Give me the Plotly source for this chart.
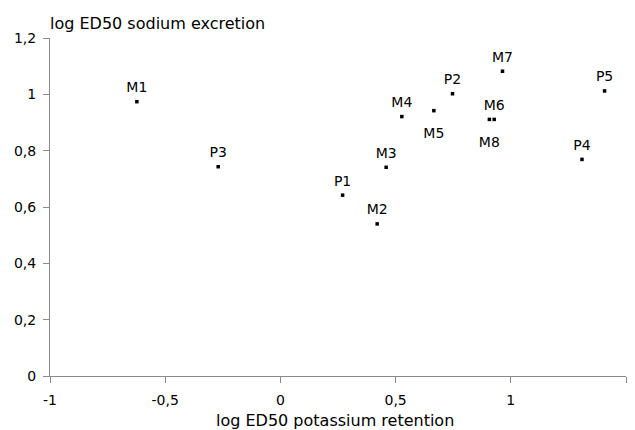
import plotly.graph_objects as go

labels = ["M1", "P3", "P1", "M2", "M3", "M4", "M5", "P2", "M7", "M6", "M8", "P4", "P5"]
x_vals = [-0.623, -0.270, 0.270, 0.420, 0.459, 0.527, 0.666, 0.747, 0.964, 0.928, 0.907, 1.309, 1.407]
y_vals = [0.974, 0.743, 0.642, 0.540, 0.741, 0.921, 0.942, 1.002, 1.082, 0.911, 0.911, 0.769, 1.012]
positions = ["top center", "top center", "top center", "top center", "top center", "top center",
             "bottom center", "top center", "top center", "top center", "bottom center",
             "top center", "top center"]

x_ticks = [-1, -0.5, 0, 0.5, 1, 1.5]
x_ticktext = ["-1", "-0,5", "0", "0,5", "1", "1,5"]
y_ticks = [0, 0.2, 0.4, 0.6, 0.8, 1.0, 1.2]
y_ticktext = ["0", "0,2", "0,4", "0,6", "0,8", "1", "1,2"]

FONT = "DejaVu Sans"
INK = "#000000"

# invisible marker sizes only control the label clearance from each point
clearance = [26 if p.startswith("bottom") else 8 for p in positions]

fig = go.Figure()
fig.add_trace(go.Scatter(
    x=x_vals, y=y_vals, mode="markers+text", text=labels,
    textposition=positions,
    textfont=dict(family=FONT, size=14, color=INK),
    marker=dict(symbol="square", size=clearance, color="rgba(0,0,0,0)"),
    cliponaxis=False, showlegend=False, hoverinfo="skip",
))
fig.add_trace(go.Scatter(
    x=x_vals, y=y_vals, mode="markers", text=labels,
    marker=dict(symbol="square", size=3.5, color=INK),
    cliponaxis=False, showlegend=False,
))

axis_common = dict(showgrid=False, zeroline=False, showline=True, linecolor="#8a8a8a",
                   linewidth=1, ticks="outside", ticklen=6, tickcolor="#8a8a8a",
                   automargin=False,
                   tickfont=dict(family=FONT, size=14, color=INK))

fig.update_xaxes(range=[-1, 1.5], tickvals=x_ticks, ticktext=x_ticktext,
                 ticklabelstandoff=5, **axis_common)
fig.update_yaxes(range=[0, 1.2], tickvals=y_ticks, ticktext=y_ticktext,
                 ticklabelstandoff=4, **axis_common)

fig.add_annotation(text="log ED50 sodium excretion", xref="paper", yref="paper",
                   x=0, y=1, xanchor="left", yanchor="bottom", yshift=3, xshift=-2,
                   showarrow=False, font=dict(family=FONT, size=16, color=INK))
fig.add_annotation(text="log ED50 potassium retention", xref="paper", yref="paper",
                   x=0.5, y=0, xanchor="center", yanchor="top", yshift=-33, xshift=-3,
                   showarrow=False, font=dict(family=FONT, size=16, color=INK))

fig.update_layout(width=627, height=422, margin=dict(l=42, r=9, t=30, b=54),
                  paper_bgcolor="white", plot_bgcolor="white")

fig.write_html("out.html")
